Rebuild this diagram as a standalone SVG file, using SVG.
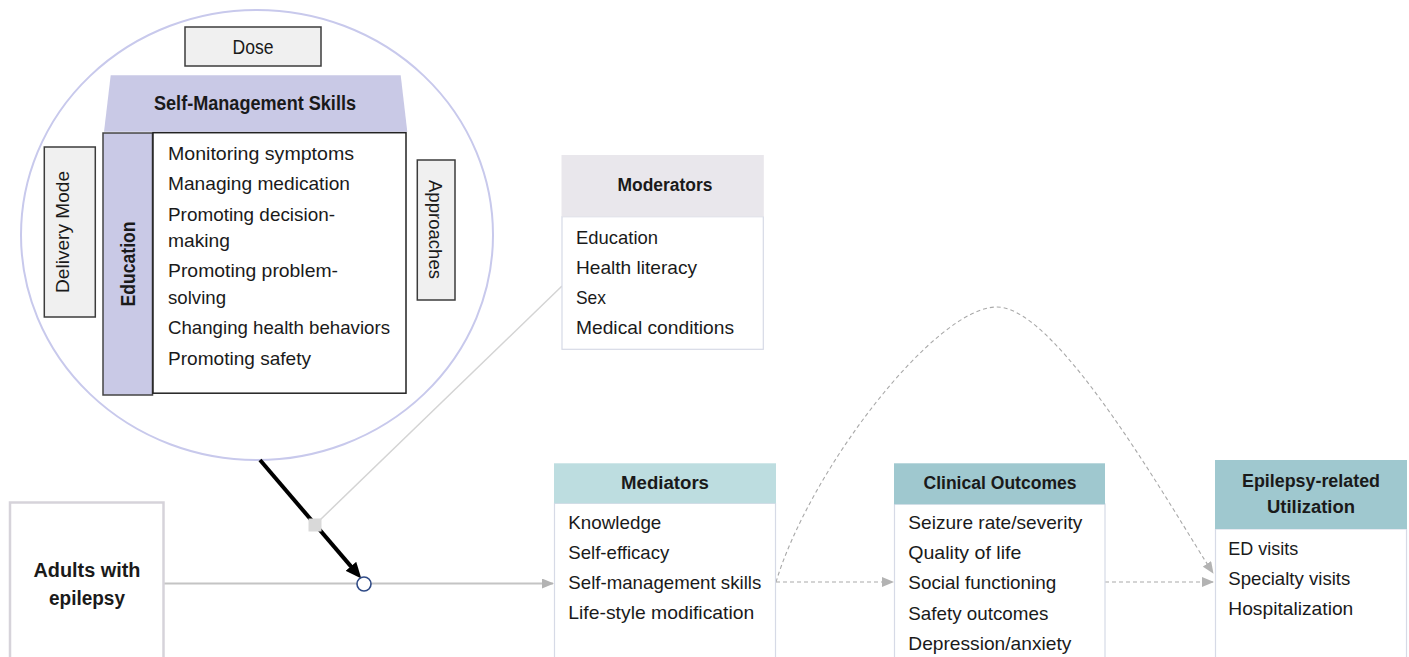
<svg xmlns="http://www.w3.org/2000/svg" width="1409" height="657" viewBox="0 0 1409 657">
  <style>
    text { font-family: "Liberation Sans", Arial, sans-serif; fill: #1a1a1a; }
    .t { font-size: 19px; }
    .b { font-size: 18px; font-weight: bold; }
    .mid { text-anchor: middle; }
    .lav { fill: #c9c9e6; }
    .grey-box { fill: #f0f0f0; stroke: #3c3c3c; stroke-width: 1.5; }
    .panel { fill: #ffffff; stroke: #d6dae6; stroke-width: 1.2; }
    .solid { fill: none; stroke: #c4c4c4; stroke-width: 2; }
    .dash { fill: none; stroke: #a9a9a9; stroke-width: 1.1; stroke-dasharray: 4 3; }
  </style>
  <defs>
    <marker id="head-grey" markerUnits="userSpaceOnUse" markerWidth="12" markerHeight="10" refX="11" refY="5" orient="auto">
      <path d="M0,0 L12,5 L0,10 z" fill="#b3b3b3"/>
    </marker>
    <marker id="head-black" markerUnits="userSpaceOnUse" markerWidth="16" markerHeight="14" refX="6" refY="7" orient="auto">
      <path d="M0,0 L16,7 L0,14 z" fill="#000000"/>
    </marker>
  </defs>

  <rect width="1409" height="657" fill="#ffffff"/>

  <!-- intervention: self-management programme inside an ellipse -->
  <g id="intervention">
    <ellipse cx="257" cy="235" rx="236" ry="225" fill="none" stroke="#c8c9ec" stroke-width="2"/>

    <g id="dose">
      <rect class="grey-box" x="185" y="27" width="136" height="39"/>
      <text class="t mid" x="253" y="54" style="font-size:20px" textLength="41" lengthAdjust="spacingAndGlyphs">Dose</text>
    </g>

    <g id="self-management-skills">
      <polygon class="lav" points="110.7,75.3 400.7,75.3 407.3,131.7 104,131.7"/>
      <text class="b mid" x="255" y="110" style="font-size:19.5px" textLength="202" lengthAdjust="spacingAndGlyphs">Self-Management Skills</text>
    </g>

    <g id="education">
      <rect class="lav" x="103" y="133" width="49.5" height="262" stroke="#444" stroke-width="1.5"/>
      <text class="b mid" transform="translate(134.5,264) rotate(-90)" style="font-size:20px" textLength="85" lengthAdjust="spacingAndGlyphs">Education</text>
    </g>

    <g id="skills-list">
      <rect x="153" y="132.7" width="253" height="260.5" fill="#ffffff" stroke="#222" stroke-width="1.5"/>
      <text class="t" x="168" y="160" textLength="186" lengthAdjust="spacingAndGlyphs">Monitoring symptoms</text>
      <text class="t" x="168" y="190" textLength="182" lengthAdjust="spacingAndGlyphs">Managing medication</text>
      <text class="t" x="168" y="220.5" textLength="167" lengthAdjust="spacingAndGlyphs">Promoting decision-</text>
      <text class="t" x="168" y="247" textLength="62" lengthAdjust="spacingAndGlyphs">making</text>
      <text class="t" x="168" y="277" textLength="170" lengthAdjust="spacingAndGlyphs">Promoting problem-</text>
      <text class="t" x="168" y="303.5" textLength="58" lengthAdjust="spacingAndGlyphs">solving</text>
      <text class="t" x="168" y="334" textLength="222" lengthAdjust="spacingAndGlyphs">Changing health behaviors</text>
      <text class="t" x="168" y="365" textLength="143" lengthAdjust="spacingAndGlyphs">Promoting safety</text>
    </g>

    <g id="delivery-mode">
      <rect class="grey-box" x="44.3" y="147" width="51" height="170"/>
      <text class="t mid" transform="translate(69,232) rotate(-90)" textLength="122" lengthAdjust="spacingAndGlyphs">Delivery Mode</text>
    </g>

    <g id="approaches">
      <rect class="grey-box" x="417.3" y="160" width="37.7" height="140"/>
      <text class="t mid" transform="translate(429,229.5) rotate(90)" textLength="99" lengthAdjust="spacingAndGlyphs">Approaches</text>
    </g>
  </g>

  <!-- connectors -->
  <g id="connectors">
    <line class="solid" x1="164" y1="583.5" x2="553" y2="583.5" marker-end="url(#head-grey)"/>
    <line x1="320" y1="520" x2="562" y2="286" stroke="#d4d4d4" stroke-width="1.5"/>
    <line x1="260" y1="460" x2="354.8" y2="570.9" stroke="#000" stroke-width="4" marker-end="url(#head-black)"/>
    <rect x="308.5" y="518.5" width="13" height="13" fill="#d9d9d9"/>
    <circle cx="364" cy="584" r="7" fill="#ffffff" stroke="#2f4a86" stroke-width="1.6"/>
    <line class="dash" x1="776" y1="582" x2="893" y2="582" marker-end="url(#head-grey)"/>
    <line class="dash" x1="1105" y1="582" x2="1213" y2="582" marker-end="url(#head-grey)"/>
    <path class="dash" d="M776,582 C810,470 935,307 997,307 C1059,307 1175,515 1213,573" marker-end="url(#head-grey)"/>
  </g>

  <g id="population">
    <rect x="10" y="502.5" width="153.5" height="170" fill="#ffffff" stroke="#d6d3da" stroke-width="2.5"/>
    <text class="b mid" x="87" y="577" style="font-size:19.5px" textLength="107" lengthAdjust="spacingAndGlyphs">Adults with</text>
    <text class="b mid" x="87" y="605" style="font-size:19.5px" textLength="76" lengthAdjust="spacingAndGlyphs">epilepsy</text>
  </g>

  <g id="moderators">
    <rect class="panel" x="562" y="216.7" width="201.3" height="132.6"/>
    <rect x="561.5" y="155" width="202.3" height="61.7" fill="#e9e7ec"/>
    <text class="b mid" x="665" y="190.5" textLength="95" lengthAdjust="spacingAndGlyphs">Moderators</text>
    <text class="t" x="576" y="244" textLength="82" lengthAdjust="spacingAndGlyphs">Education</text>
    <text class="t" x="576" y="274" textLength="121" lengthAdjust="spacingAndGlyphs">Health literacy</text>
    <text class="t" x="576" y="304" textLength="30" lengthAdjust="spacingAndGlyphs">Sex</text>
    <text class="t" x="576" y="334" textLength="158" lengthAdjust="spacingAndGlyphs">Medical conditions</text>
  </g>

  <g id="mediators">
    <rect class="panel" x="554.5" y="503.3" width="221" height="170"/>
    <rect x="554" y="463.3" width="222" height="40" fill="#bddde0"/>
    <text class="b mid" x="665" y="489.3" textLength="88" lengthAdjust="spacingAndGlyphs">Mediators</text>
    <text class="t" x="568.3" y="529" textLength="93" lengthAdjust="spacingAndGlyphs">Knowledge</text>
    <text class="t" x="568.3" y="559" textLength="101" lengthAdjust="spacingAndGlyphs">Self-efficacy</text>
    <text class="t" x="568.3" y="589" textLength="193" lengthAdjust="spacingAndGlyphs">Self-management skills</text>
    <text class="t" x="568.3" y="619" textLength="186" lengthAdjust="spacingAndGlyphs">Life-style modification</text>
  </g>

  <g id="clinical-outcomes">
    <rect class="panel" x="894.5" y="504" width="210.5" height="170"/>
    <rect x="894" y="463.3" width="211" height="41" fill="#9fc8cf"/>
    <text class="b mid" x="1000" y="489" textLength="153" lengthAdjust="spacingAndGlyphs">Clinical Outcomes</text>
    <text class="t" x="908.3" y="529" textLength="174" lengthAdjust="spacingAndGlyphs">Seizure rate/severity</text>
    <text class="t" x="908.3" y="559" textLength="113" lengthAdjust="spacingAndGlyphs">Quality of life</text>
    <text class="t" x="908.3" y="589" textLength="148" lengthAdjust="spacingAndGlyphs">Social functioning</text>
    <text class="t" x="908.3" y="619.5" textLength="140" lengthAdjust="spacingAndGlyphs">Safety outcomes</text>
    <text class="t" x="908.3" y="649.5" textLength="163" lengthAdjust="spacingAndGlyphs">Depression/anxiety</text>
  </g>

  <g id="utilization">
    <rect class="panel" x="1215.5" y="529" width="191" height="150"/>
    <rect x="1215" y="460" width="192" height="69" fill="#9fc8cf"/>
    <text class="b mid" x="1311" y="486.7" textLength="138" lengthAdjust="spacingAndGlyphs">Epilepsy-related</text>
    <text class="b mid" x="1311" y="513.3" textLength="88" lengthAdjust="spacingAndGlyphs">Utilization</text>
    <text class="t" x="1228.3" y="555" textLength="70" lengthAdjust="spacingAndGlyphs">ED visits</text>
    <text class="t" x="1228.3" y="585" textLength="122" lengthAdjust="spacingAndGlyphs">Specialty visits</text>
    <text class="t" x="1228.3" y="615" textLength="125" lengthAdjust="spacingAndGlyphs">Hospitalization</text>
  </g>
</svg>
